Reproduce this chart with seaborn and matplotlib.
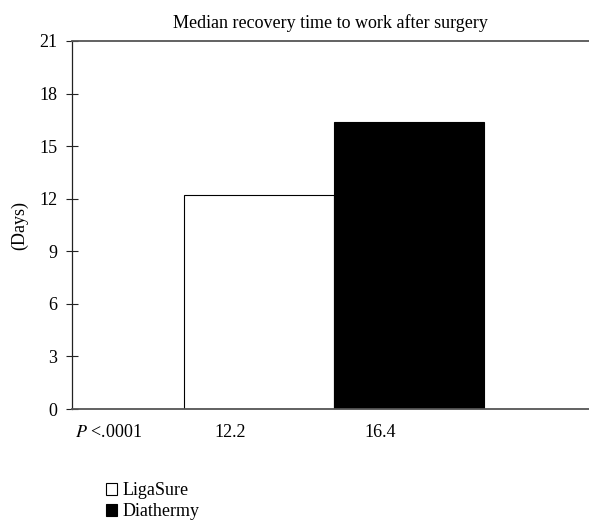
import matplotlib
matplotlib.use("Agg")
import matplotlib.pyplot as plt
import seaborn as sns
import pandas as pd

# data
groups = ["LigaSure", "Diathermy"]
median_days = [12.2, 16.4]
bar_colors = ["white", "black"]
x_labels = ["$P$ <.0001", "12.2", "16.4"]
y_ticks = [0, 3, 6, 9, 12, 15, 18, 21]

sns.set_theme(style="white")
plt.rcParams["font.family"] = ["Liberation Serif", "DejaVu Serif"]
plt.rcParams["mathtext.fontset"] = "stix"
plt.rcParams["text.color"] = "black"
plt.rcParams["axes.labelcolor"] = "black"
plt.rcParams["xtick.color"] = "black"
plt.rcParams["ytick.color"] = "black"

df = pd.DataFrame({"group": groups, "days": median_days})

fig = plt.figure(figsize=(5.89, 5.29), dpi=100)
ax = fig.add_axes([0.1222, 0.2268, 0.8778, 0.6957])

sns.barplot(
    data=df, x="group", y="days", hue="group",
    palette=bar_colors, width=1.0, edgecolor="black", linewidth=0.8,
    ax=ax, legend=False,
)

fs = 13
ax.set_xlim(-1.247, 2.2)
ax.set_ylim(0, 21)
ax.set_yticks(y_ticks)
ax.tick_params(axis="y", left=True, direction="inout", length=9, width=0.8,
               color="#222222", labelsize=fs, pad=6)
ax.tick_params(axis="x", bottom=False, labelsize=fs, pad=5)
ax.set_xticks([-1.0, -0.193, 0.807])
ax.set_xticklabels(x_labels)

ax.set_xlabel("")
ax.set_ylabel("(Days)", fontsize=fs, labelpad=8)
ax.set_title("Median recovery time to work after surgery", fontsize=fs, pad=9)

for side in ["top", "bottom"]:
    ax.spines[side].set_color("#555555")
    ax.spines[side].set_linewidth(1.3)
ax.spines["left"].set_color("#222222")
ax.spines["left"].set_linewidth(0.9)
ax.spines["right"].set_visible(False)

handles = [plt.Rectangle((0, 0), 1, 1, facecolor=c, edgecolor="black", linewidth=0.8)
           for c in bar_colors]
fig.legend(handles, groups, loc="upper left", bbox_to_anchor=(0.167, 0.102),
           frameon=False, fontsize=fs, handlelength=0.65, handleheight=0.65,
           handletextpad=0.3, labelspacing=0.2, borderaxespad=0)

fig.savefig("out.png", dpi=100)
